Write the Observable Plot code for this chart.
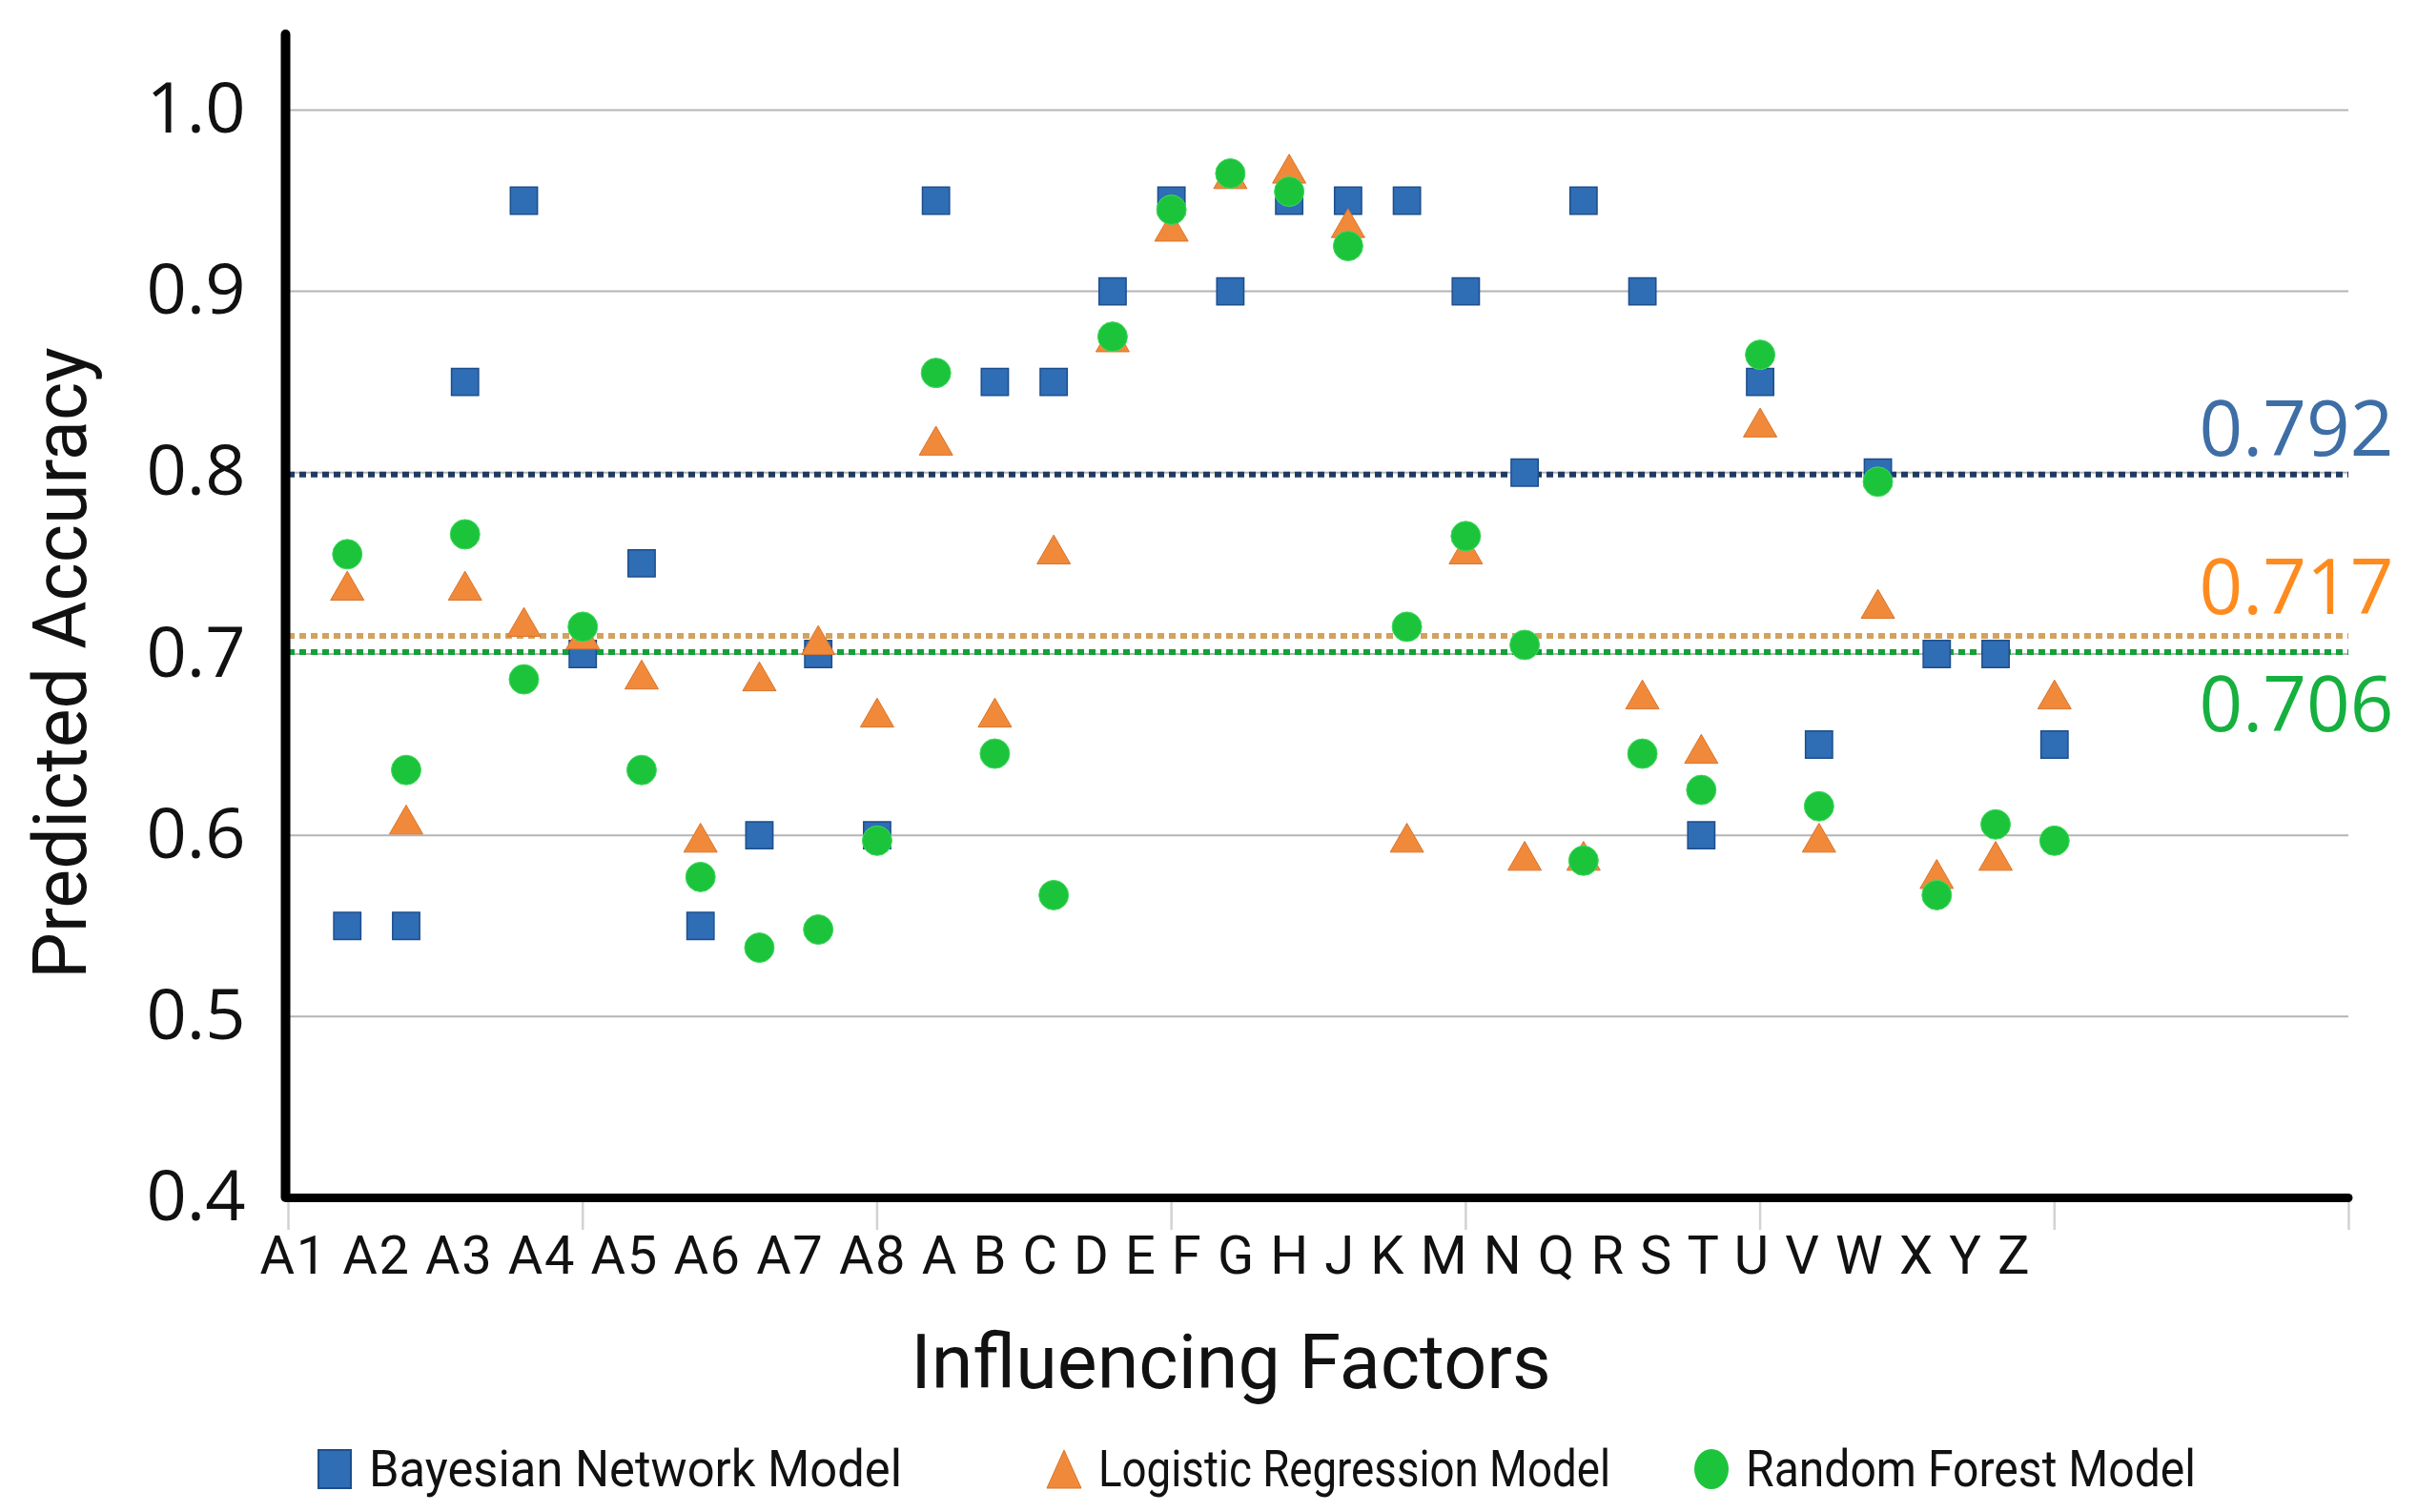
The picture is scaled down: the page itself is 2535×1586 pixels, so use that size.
<!DOCTYPE html>
<html><head><meta charset="utf-8">
<script src="https://cdn.jsdelivr.net/npm/d3@7"></script>
<script src="https://cdn.jsdelivr.net/npm/@observablehq/plot@0.6"></script>
<style>
html,body{margin:0;padding:0;background:#fff;}
#wrap{width:2535px;height:1586px;position:relative;overflow:hidden;background:#fff;}
#legend{position:relative;width:2535px;height:106px;font-family:Roboto,sans-serif;font-size:53px;color:#111;}
.item{position:absolute;top:38px;height:46px;display:flex;align-items:center;white-space:nowrap;}
.item svg{margin-right:16px;flex:none;}
.item span{display:inline-block;transform-origin:left center;}
</style></head><body>
<div id="wrap"><div id="chart"></div><div id="legend"></div></div>
<script>
// ---- data ----
const tickLabels = ["A1","A2","A3","A4","A5","A6","A7","A8","A","B","C","D","E","F","G","H","J","K","M","N","Q","R","S","T","U","V","W","X","Y","Z"];
const positions = [1,2,3,4,5,6,7,8,9,10,11,12,13,14,15,16,17,18,19,20,21,22,23,24,25,26,27,28,29,30];
const bayesian = [0.55,0.55,0.85,0.95,0.70,0.75,0.55,0.60,0.70,0.60,0.95,0.85,0.85,0.90,0.95,0.90,0.95,0.95,0.95,0.90,0.80,0.95,0.90,0.60,0.85,0.65,0.80,0.70,0.70,0.65];
const logistic = [0.735,0.606,0.735,0.715,0.708,0.686,0.596,0.685,0.705,0.665,0.815,0.665,0.755,0.872,0.933,0.962,0.965,0.935,0.596,0.755,0.586,0.586,0.675,0.645,0.825,0.596,0.725,0.576,0.586,0.675];
const randomForest = [0.755,0.636,0.766,0.686,0.715,0.636,0.577,0.538,0.548,0.597,0.855,0.645,0.567,0.875,0.945,0.965,0.955,0.925,0.715,0.765,0.705,0.586,0.645,0.625,0.865,0.616,0.795,0.567,0.606,0.597];
const seriesNames = ["Bayesian Network Model","Logistic Regression Model","Random Forest Model"];
const meanLabels = ["0.792","0.717","0.706"];
const meanLevels = [0.799,0.710,0.701];
const yTicks = [0.4,0.5,0.6,0.7,0.8,0.9,1.0];
const xTicks = [0,5,10,15,20,25,30,35];

// ---- styles ----
const blue = "#2f6db5", blueEdge = "#1d4e8c";
const orange = "#f08a3a", orangeEdge = "#d9742a";
const green = "#1cc43c", greenEdge = "#3fd85c";
const meanLineColors = ["#1f3b63","#d3a25e","#12a136"];
const meanTextColors = ["#3e6ea6","#ff8b1f","#16b03f"];
const meanDy = [-45,-49,57];

const toRows = vals => positions.map((p,i)=>({x:p, y:vals[i]}));
const joined = tickLabels.join(" ");

const marks = [
  Plot.ruleY([0.5,0.6,0.7,0.8,0.9,1.0], {stroke:"#b4b4b4", strokeWidth:2}),
  ...meanLevels.map((lv,i)=>Plot.ruleY([lv], {stroke:meanLineColors[i], strokeWidth:6, strokeDasharray:"7 5"})),
  Plot.dot(toRows(bayesian), {x:"x", y:"y", symbol:"square", r:16, fill:blue, stroke:blueEdge, strokeWidth:1.5}),
  Plot.dot(toRows(logistic), {x:"x", y:"y", symbol:"triangle", r:13, fill:orange, stroke:orangeEdge, strokeWidth:1}),
  Plot.dot(toRows(randomForest), {x:"x", y:"y", symbol:"circle", r:15.5, fill:green, stroke:greenEdge, strokeWidth:1}),
  Plot.axisX({ticks:xTicks, tickSize:34, tickPadding:0, tickFormat:()=>"", stroke:"#d2d2d2", strokeWidth:2.5, label:null}),
  Plot.ruleY([0.4], {stroke:"#000", strokeWidth:9, strokeLinecap:"round"}),
  Plot.ruleX([0], {stroke:"#000", strokeWidth:10, strokeLinecap:"round", dx:-3}),
  Plot.axisY({ticks:yTicks, tickSize:0, tickPadding:45, tickFormat:d3.format(".1f"), fontSize:74, fontFamily:"Open Sans", fill:"#111", label:null}),
  Plot.text(["Predicted Accuracy"], {text:d=>d, frameAnchor:"left", textAnchor:"middle", lineAnchor:"middle", rotate:-90, dx:-237, dy:49, fontSize:77, fontFamily:"Roboto", fill:"#111"}),
  Plot.text(["Influencing Factors"], {text:d=>d, frameAnchor:"bottom", textAnchor:"middle", lineAnchor:"middle", dx:-92, dy:174, fontSize:79, fontFamily:"Roboto", fill:"#111"}),
  Plot.text([joined], {text:d=>d, frameAnchor:"bottom-left", textAnchor:"start", lineAnchor:"middle", dx:-30, dy:62, fontSize:56, fontFamily:"Roboto", fill:"#111"}),
  ...meanLabels.map((lb,i)=>Plot.text([lb], {text:d=>d, y:()=>meanLevels[i], frameAnchor:"right", textAnchor:"end", lineAnchor:"middle", dx:47, dy:meanDy[i], fontSize:80, fontFamily:"Open Sans", fill:meanTextColors[i]}))
];

const chart = Plot.plot({
  width:2535, height:1480,
  marginLeft:302, marginRight:72, marginTop:36, marginBottom:224,
  x:{domain:[0,35], axis:null},
  y:{domain:[0.4,1.0415], axis:null},
  style:{background:"#fff", fontFamily:"Roboto", overflow:"visible"},
  marks
});
document.getElementById("chart").appendChild(chart);
chart.querySelectorAll("text").forEach(t=>{
  if (t.textContent === joined) { t.setAttribute("textLength","1856"); t.setAttribute("lengthAdjust","spacing"); }
});

// ---- legend ----
const legend = document.getElementById("legend");
const symbols = [
  `<svg width="40" height="46"><rect x="3" y="3" width="34" height="40" fill="${blue}" stroke="${blueEdge}" stroke-width="2"/></svg>`,
  `<svg width="40" height="46"><polygon points="20,3 38,43 2,43" fill="${orange}" stroke="${orangeEdge}" stroke-width="1"/></svg>`,
  `<svg width="40" height="46"><ellipse cx="20" cy="23" rx="18" ry="21" fill="${green}"/></svg>`
];
const lefts = [331, 1096, 1775];
const textWidths = [559, 537, 472];
seriesNames.forEach((name,i)=>{
  const d = document.createElement("div");
  d.className = "item";
  d.style.left = lefts[i] + "px";
  d.innerHTML = symbols[i] + `<span>${name}</span>`;
  legend.appendChild(d);
  const sp = d.querySelector("span");
  const w = sp.getBoundingClientRect().width;
  if (w > 0) sp.style.transform = `scaleX(${textWidths[i]/w})`;
});
</script>
</body></html>
